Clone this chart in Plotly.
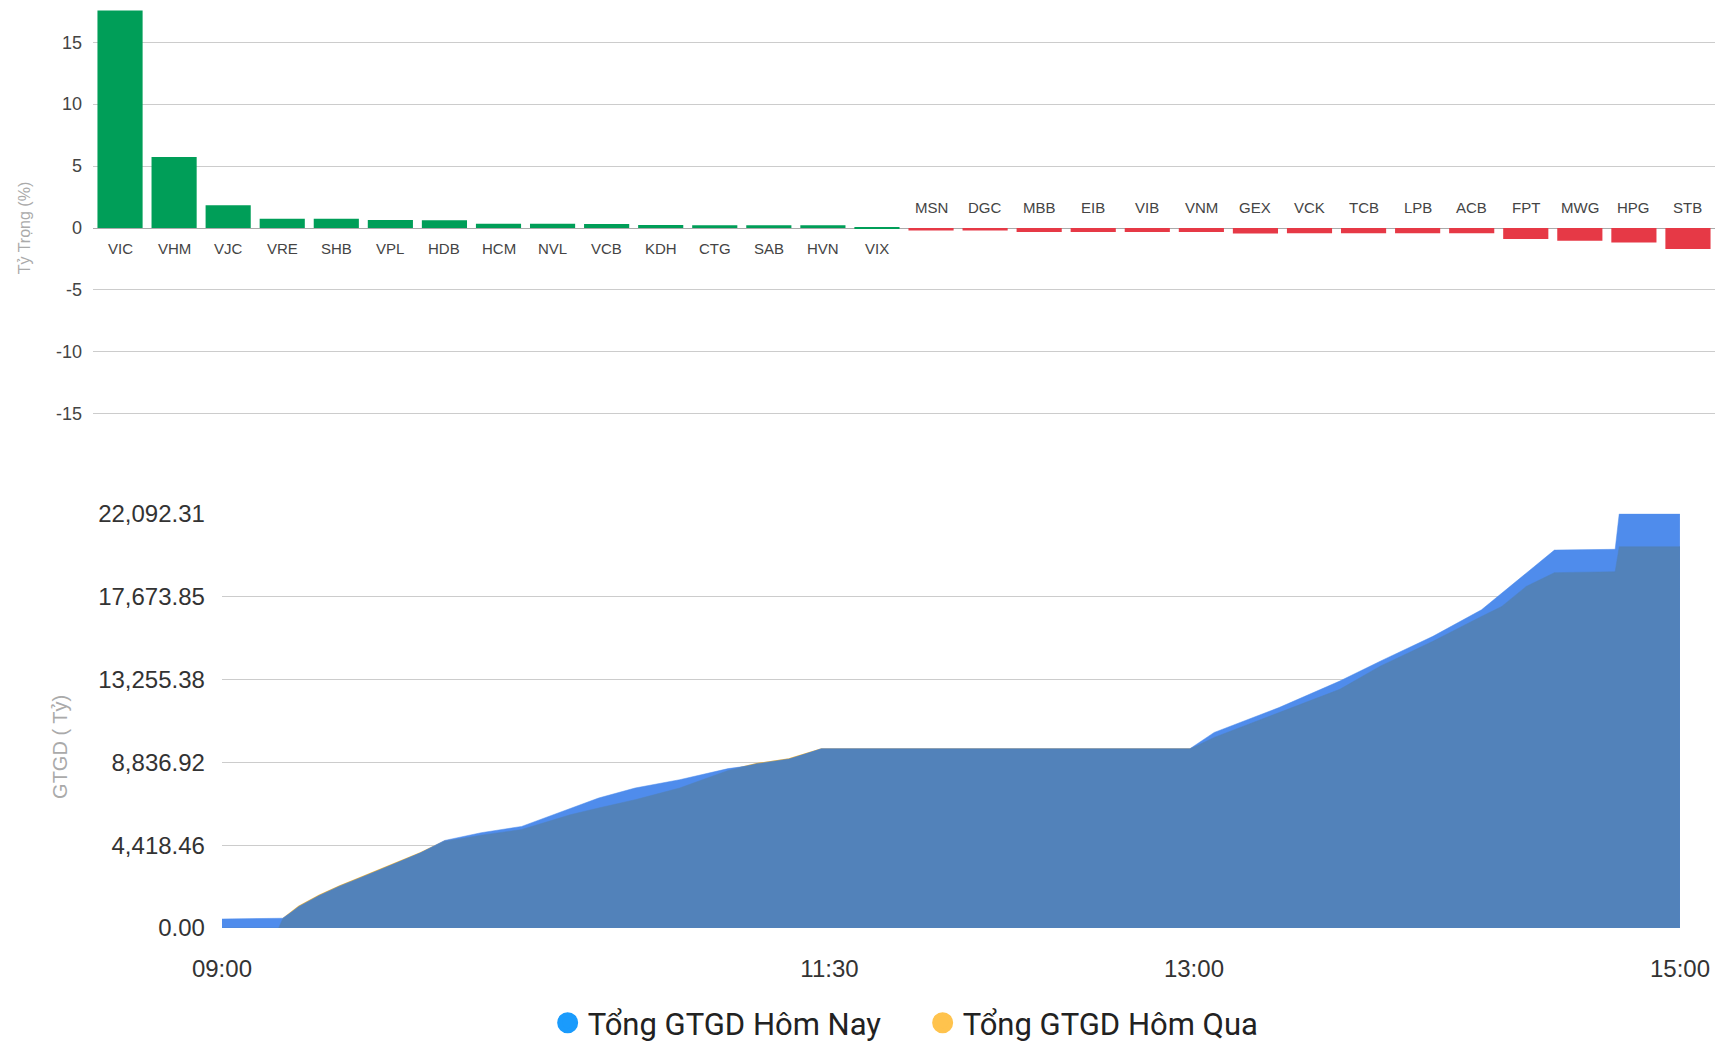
import pandas as pd
import plotly.graph_objects as go

# ---------------- data ----------------
tickers = ["VIC", "VHM", "VJC", "VRE", "SHB", "VPL", "HDB", "HCM", "NVL", "VCB",
           "KDH", "CTG", "SAB", "HVN", "VIX",
           "MSN", "DGC", "MBB", "EIB", "VIB", "VNM", "GEX", "VCK", "TCB", "LPB",
           "ACB", "FPT", "MWG", "HPG", "STB"]
weights = [17.55, 5.74, 1.83, 0.75, 0.75, 0.64, 0.62, 0.35, 0.35, 0.33,
           0.24, 0.23, 0.23, 0.22, 0.04,
           -0.20, -0.20, -0.33, -0.33, -0.33, -0.33, -0.45, -0.43, -0.43, -0.43,
           -0.42, -0.89, -1.03, -1.16, -1.70]
weight_ticks = [-15, -10, -5, 0, 5, 10, 15]
weight_tick_labels = ["-15", "-10", "-5", "0", "5", "10", "15"]

times = ["09:00", "09:14", "09:15", "09:19", "09:24", "09:29", "09:34", "09:41",
         "09:49", "09:55", "10:04", "10:14", "10:26", "10:33", "10:42", "10:53",
         "11:05", "11:12", "11:20", "11:28", "12:59", "13:05", "13:21", "13:36",
         "13:46", "13:59", "14:11", "14:16", "14:22", "14:27", "14:29", "14:44",
         "14:45", "15:00"]
today = [480, 480, 520, 1100, 1680, 2150, 2575, 3250,
         3998, 4669, 5080, 5416, 6397, 6930, 7463, 7906,
         8500, 8700, 8972, 9560, 9560, 10428, 11754, 13167,
         14228, 15554, 16969, 17853, 18914, 19798, 20151, 20194,
         22092.31, 22092.31]
yesterday = [0, 0, 480, 1150, 1730, 2230, 2660, 3300,
             4000, 4620, 4950, 5250, 6040, 6400, 6839, 7463,
             8400, 8760, 9010, 9540, 9540, 10163, 11489, 12725,
             13963, 15289, 16616, 17146, 18206, 18737, 18949, 19000,
             20333, 20333]
value_ticks = [0, 4418.46, 8836.92, 13255.38, 17673.85, 22092.31]
time_ticks = ["09:00", "11:30", "13:00", "15:00"]

DAY = "2024-01-02 "
t = pd.to_datetime([DAY + s for s in times])
tt = pd.to_datetime([DAY + s for s in time_ticks])

GREEN = "#009e58"
RED = "#e63946"
LIGHT_BLUE = "#4f8cec"
STEEL = "#5282ba"
ORANGE = "#f4b63c"

fig = go.Figure()

# ---------------- top: weights bar chart ----------------
fig.add_trace(go.Bar(
    x=tickers, y=weights, width=0.835,
    marker=dict(color=[GREEN if w >= 0 else RED for w in weights], line=dict(width=0)),
    xaxis="x", yaxis="y", showlegend=False,
))

annotations = []
for tk, w in zip(tickers, weights):
    annotations.append(dict(
        x=tk, y=0, xref="x", yref="y", text=tk, showarrow=False,
        yshift=-20.5 if w >= 0 else 20.5,
        font=dict(family="Liberation Sans, Arial", size=15, color="#444"),
    ))

# y-axis title of the lower chart (placed like the original, slightly below centre)
annotations.append(dict(
    text="GTGD ( Tỷ)", xref="paper", yref="paper", x=-0.0205, y=0.197,
    xanchor="center", yanchor="middle", textangle=-90, showarrow=False,
    font=dict(family="Liberation Sans, Arial", size=20, color="#aaaaaa"),
))

# ---------------- bottom: cumulative value area chart ----------------
fig.add_trace(go.Scatter(
    x=t, y=yesterday, mode="lines", line=dict(color=ORANGE, width=1.6),
    xaxis="x2", yaxis="y2", showlegend=False, hoverinfo="skip",
))
fig.add_trace(go.Scatter(
    x=t, y=today, mode="lines", fill="tozeroy", fillcolor=LIGHT_BLUE,
    line=dict(color=LIGHT_BLUE, width=0.5),
    xaxis="x2", yaxis="y2", showlegend=False, name="Tổng GTGD Hôm Nay",
))
fig.add_trace(go.Scatter(
    x=t, y=yesterday, mode="lines", fill="tozeroy", fillcolor=STEEL,
    line=dict(color=STEEL, width=0.5),
    xaxis="x2", yaxis="y2", showlegend=False, name="Tổng GTGD Hôm Qua",
))

# legend entries
fig.add_trace(go.Scatter(
    x=[None], y=[None], mode="markers", name="Tổng GTGD Hôm Nay",
    marker=dict(symbol="circle", size=16, color="#1a9bfc", line=dict(width=5, color="#1a9bfc")),
    xaxis="x2", yaxis="y2",
))
fig.add_trace(go.Scatter(
    x=[None], y=[None], mode="markers", name="Tổng GTGD Hôm Qua",
    marker=dict(symbol="circle", size=16, color="#ffc34d", line=dict(width=5, color="#ffc34d")),
    xaxis="x2", yaxis="y2",
))

fig.update_layout(
    width=1722, height=1045, autosize=False,
    margin=dict(l=93, r=7, t=10, b=117, autoexpand=False),
    paper_bgcolor="white", plot_bgcolor="white",
    bargap=0.165,
    font=dict(family="Liberation Sans, Arial", color="#444"),
    annotations=annotations,
    xaxis=dict(
        domain=[0, 1], anchor="y", type="category", range=[-0.5, len(tickers) - 0.5],
        showticklabels=False, showgrid=False, zeroline=False, showline=False,
        automargin=False,
    ),
    yaxis=dict(
        domain=[0.525, 1], anchor="x", range=[-17.6, 17.6],
        tickmode="array", tickvals=weight_ticks, ticktext=weight_tick_labels,
        tickfont=dict(size=18, color="#444"),
        gridcolor="#cccccc", gridwidth=1,
        zeroline=True, zerolinecolor="#aaaaaa", zerolinewidth=1,
        ticklabelstandoff=10, automargin=False,
        title=dict(text="Tỷ Trọng (%)", font=dict(size=16, color="#aaaaaa"), standoff=21),
    ),
    xaxis2=dict(
        domain=[0.0795, 0.9784], anchor="y2", type="date",
        range=[tt[0], tt[-1]],
        tickmode="array", tickvals=list(tt), ticktext=time_ticks,
        tickfont=dict(size=24, color="#333"),
        showgrid=False, zeroline=False, showline=False,
        ticklabelstandoff=24, automargin=False,
    ),
    yaxis2=dict(
        domain=[0, 0.4513], anchor="x2", range=[0, 22092.32],
        tickmode="array", tickvals=value_ticks, tickformat=",.2f",
        tickfont=dict(size=24, color="#333"),
        gridcolor="#cccccc", gridwidth=1,
        zeroline=False, showline=False,
        ticklabelstandoff=16, automargin=False,
    ),
    legend=dict(
        orientation="h", x=0.5115, xanchor="center", xref="paper",
        y=0.021, yanchor="middle", yref="container",
        font=dict(family="Roboto", size=31, color="#222"),
        itemsizing="trace", bgcolor="rgba(0,0,0,0)",
        entrywidth=330, entrywidthmode="pixels",
    ),
)

fig.write_html(
    "out.html",
    post_script="document.body.style.margin='0';document.body.style.overflow='hidden';"
                "document.documentElement.style.overflow='hidden';",
)
